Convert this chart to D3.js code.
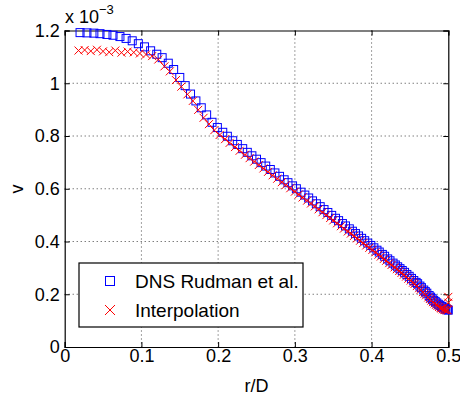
<!DOCTYPE html>
<html><head><meta charset="utf-8">
<script src="https://cdn.jsdelivr.net/npm/d3@7"></script>
<style>body{margin:0;background:#fff}svg{display:block}text{font-family:"Liberation Sans",Arial,sans-serif;fill:#000}</style>
</head><body><svg id="c" width="460" height="396"></svg>
<script>
const dnsR=[0.020,0.029,0.038,0.046,0.055,0.063,0.072,0.080,0.088,0.096,0.104,0.112,0.120,0.127,0.135,0.142,0.150,0.157,0.164,0.171,0.178,0.185,0.192,0.199,0.206,0.212,0.219,0.225,0.232,0.238,0.244,0.250,0.256,0.262,0.268,0.274,0.280,0.286,0.291,0.297,0.302,0.308,0.313,0.318,0.323,0.328,0.333,0.338,0.343,0.348,0.353,0.357,0.362,0.366,0.371,0.375,0.379,0.383,0.387,0.391,0.395,0.399,0.403,0.407,0.410,0.414,0.417,0.421,0.424,0.428,0.431,0.434,0.437,0.440,0.443,0.446,0.449,0.452,0.455,0.458,0.460,0.463,0.465,0.468,0.470,0.472,0.475,0.477,0.479,0.481,0.483,0.485,0.487,0.489,0.491,0.492,0.494,0.496,0.497,0.499,0.500];
const dnsV=[1.192,1.191,1.190,1.188,1.185,1.182,1.177,1.170,1.161,1.150,1.138,1.123,1.110,1.097,1.076,1.052,1.022,0.991,0.959,0.933,0.907,0.880,0.852,0.832,0.814,0.799,0.782,0.768,0.752,0.738,0.725,0.712,0.699,0.686,0.673,0.660,0.647,0.634,0.623,0.611,0.600,0.587,0.576,0.565,0.554,0.543,0.532,0.521,0.510,0.499,0.488,0.479,0.468,0.459,0.448,0.439,0.430,0.421,0.412,0.403,0.394,0.385,0.376,0.367,0.360,0.351,0.344,0.334,0.327,0.318,0.311,0.304,0.297,0.290,0.283,0.275,0.268,0.260,0.252,0.245,0.240,0.231,0.225,0.216,0.210,0.204,0.195,0.189,0.183,0.177,0.172,0.167,0.162,0.158,0.154,0.152,0.148,0.145,0.143,0.141,0.140];
const intR=[0.018,0.026,0.034,0.042,0.050,0.058,0.066,0.074,0.082,0.090,0.098,0.106,0.114,0.122,0.130,0.137,0.145,0.152,0.160,0.167,0.174,0.181,0.188,0.195,0.202,0.209,0.215,0.222,0.228,0.235,0.241,0.247,0.253,0.259,0.265,0.271,0.277,0.283,0.288,0.294,0.300,0.305,0.310,0.316,0.321,0.326,0.331,0.336,0.341,0.346,0.350,0.355,0.360,0.364,0.369,0.373,0.377,0.381,0.385,0.389,0.393,0.397,0.401,0.405,0.409,0.412,0.416,0.419,0.423,0.426,0.430,0.433,0.436,0.439,0.442,0.445,0.448,0.451,0.454,0.456,0.459,0.462,0.464,0.467,0.469,0.471,0.474,0.476,0.478,0.480,0.482,0.484,0.486,0.488,0.490,0.491,0.493,0.495,0.496,0.498,0.499,0.500,0.500];
const intV=[1.124,1.126,1.122,1.127,1.121,1.118,1.124,1.116,1.120,1.117,1.113,1.109,1.103,1.090,1.064,1.045,1.012,0.987,0.958,0.933,0.899,0.869,0.845,0.822,0.804,0.788,0.774,0.758,0.744,0.729,0.716,0.703,0.690,0.677,0.664,0.651,0.638,0.625,0.614,0.602,0.589,0.578,0.567,0.555,0.544,0.533,0.522,0.511,0.500,0.489,0.480,0.469,0.458,0.449,0.438,0.430,0.421,0.412,0.403,0.394,0.385,0.376,0.368,0.359,0.350,0.343,0.334,0.327,0.318,0.311,0.302,0.295,0.288,0.281,0.274,0.267,0.259,0.252,0.244,0.239,0.231,0.223,0.217,0.208,0.202,0.196,0.188,0.182,0.176,0.170,0.165,0.160,0.156,0.152,0.148,0.146,0.143,0.141,0.140,0.139,0.140,0.168,0.190];
const xTicks=[0,0.1,0.2,0.3,0.4,0.5];
const yTicks=[0,0.2,0.4,0.6,0.8,1,1.2];
const legendLabels=["DNS Rudman et al.","Interpolation"];

const svg=d3.select("#c");
const L=64.7,R=448.3,T=30.5,B=347;
const x=d3.scaleLinear().domain([0,0.5]).range([L,R]);
const y=d3.scaleLinear().domain([0,1.2]).range([B,T]);
const g=svg.append("g");
// grid
g.selectAll(".gx").data(xTicks.slice(1,-1)).enter().append("line")
 .attr("x1",d=>x(d)).attr("x2",d=>x(d)).attr("y1",T).attr("y2",B)
 .attr("stroke","#444").attr("stroke-width",1).attr("stroke-dasharray","1,3");
g.selectAll(".gy").data(yTicks.slice(1,-1)).enter().append("line")
 .attr("y1",d=>y(d)).attr("y2",d=>y(d)).attr("x1",L).attr("x2",R)
 .attr("stroke","#444").attr("stroke-width",1).attr("stroke-dasharray","1,3");
// axes
const fmt=d=>d===0?"0":(d===1?"1":d3.format(".1f")(d));
svg.append("g").attr("transform",`translate(0,${B})`).call(d3.axisBottom(x).tickValues(xTicks).tickFormat(fmt).tickSize(-5).tickPadding(2));
svg.append("g").attr("transform",`translate(${L},0)`).call(d3.axisLeft(y).tickValues(yTicks).tickFormat(fmt).tickSize(-5).tickPadding(5));
svg.append("g").attr("transform",`translate(0,${T})`).call(d3.axisTop(x).tickValues(xTicks).tickFormat("").tickSize(-5));
svg.append("g").attr("transform",`translate(${R},0)`).call(d3.axisRight(y).tickValues(yTicks).tickFormat("").tickSize(-5));
svg.selectAll(".domain").attr("stroke","#000").attr("stroke-width",1.2);
svg.selectAll(".tick line").attr("stroke","#000");
svg.selectAll(".tick text").attr("font-size",18).attr("font-family","Liberation Sans, Arial, sans-serif").attr("fill","#000");
// data
const pg=svg.append("g");
const dns=dnsR.map((r,i)=>[r,dnsV[i]]);
const itp=intR.map((r,i)=>[r,intV[i]]);
const s=4;
pg.selectAll(".sq").data(dns).enter().append("rect")
 .attr("x",d=>x(d[0])-s).attr("y",d=>y(d[1])-s).attr("width",2*s).attr("height",2*s)
 .attr("fill","none").attr("stroke","#0000ff").attr("stroke-width",1);
const c=4;
pg.selectAll(".cr").data(itp).enter().append("path")
 .attr("d",d=>{const X=x(d[0]),Y=y(d[1]);return `M${X-c},${Y-c}L${X+c},${Y+c}M${X-c},${Y+c}L${X+c},${Y-c}`;})
 .attr("fill","none").attr("stroke","#ff0000").attr("stroke-width",1);
// labels
svg.append("text").attr("x",x(0.25)).attr("y",391.5).attr("text-anchor","middle").attr("font-size",18).text("r/D");
svg.append("text").attr("transform","translate(23,189) rotate(-90)").attr("text-anchor","middle").attr("font-size",18).text("v");
const ex=svg.append("text").attr("x",65).attr("y",23).attr("font-size",18);
ex.append("tspan").text("x 10");
ex.append("tspan").attr("dy",-9.5).attr("font-size",13).text("\u22123");
// legend
const lg=svg.append("g");
lg.append("rect").attr("x",79).attr("y",263).attr("width",224).attr("height",64).attr("fill","#fff").attr("stroke","#000").attr("stroke-width",1.2);
lg.append("rect").attr("x",110-4.5).attr("y",281-4.5).attr("width",9).attr("height",9).attr("fill","none").attr("stroke","#0000ff");
const lc=5;
lg.append("path").attr("d",`M${110-lc},${310-lc}L${110+lc},${310+lc}M${110-lc},${310+lc}L${110+lc},${310-lc}`).attr("stroke","#ff0000");
lg.selectAll(".lt").data(legendLabels).enter().append("text").attr("x",135).attr("y",(d,i)=>288+i*29).attr("font-size",19).text(d=>d);
</script></body></html>
